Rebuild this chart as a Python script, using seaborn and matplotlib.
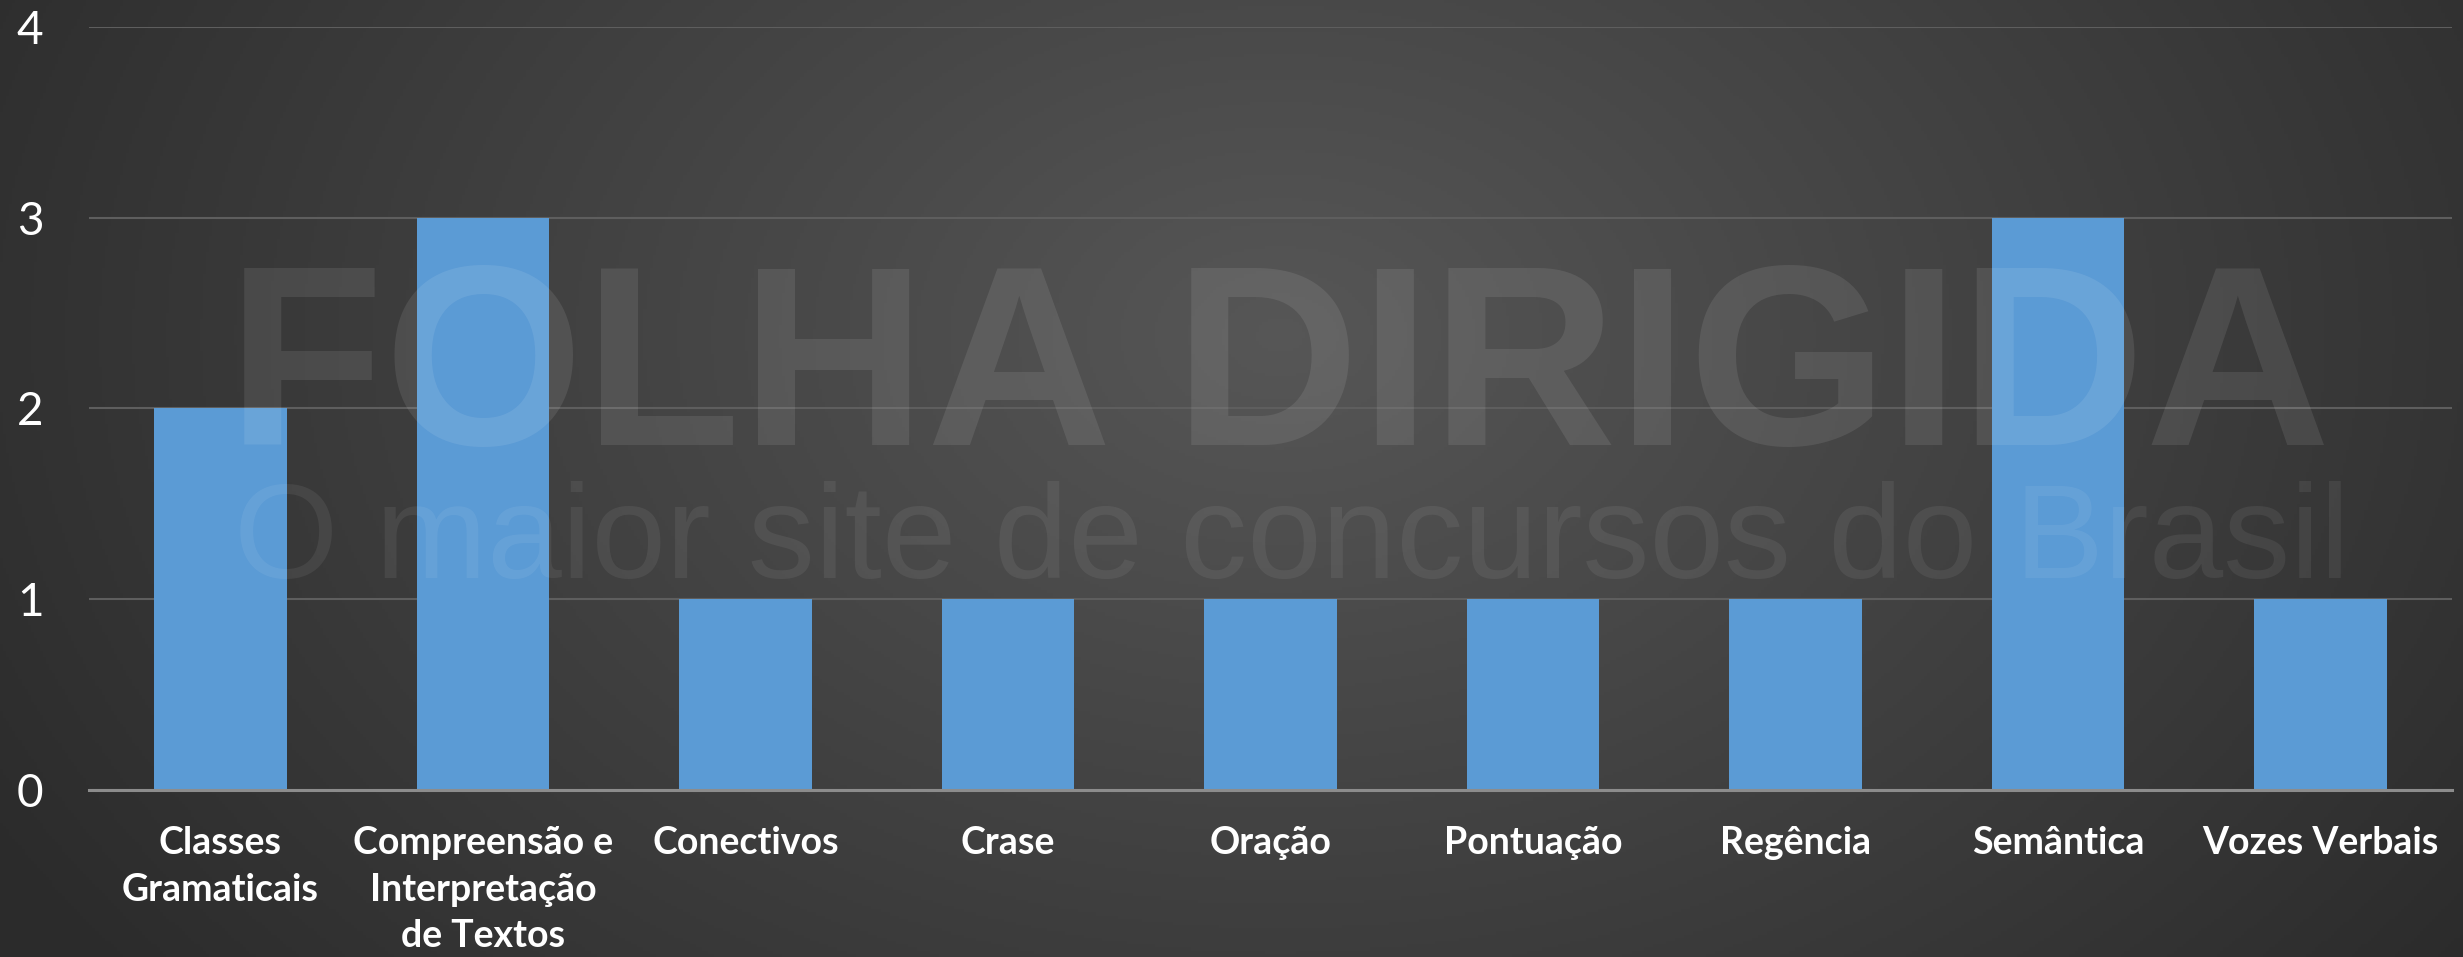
import numpy as np
import pandas as pd
import seaborn as sns
import matplotlib
matplotlib.use("Agg")
import matplotlib.pyplot as plt

categories = ["Classes\nGramaticais", "Compreensão e\nInterpretação\nde Textos",
              "Conectivos", "Crase", "Oração", "Pontuação", "Regência",
              "Semântica", "Vozes Verbais"]
values = [2, 3, 1, 1, 1, 1, 1, 3, 1]
yticks = [0, 1, 2, 3, 4]

df = pd.DataFrame({"cat": categories, "val": values})

sns.set_theme(style="dark")
plt.rcParams['font.family'] = ['Lato', 'DejaVu Sans']

W, H = 2463, 957
fig = plt.figure(figsize=(W / 100, H / 100), dpi=100)

# background radial gradient
bg = fig.add_axes([0, 0, 1, 1], zorder=-10)
yy, xx = np.mgrid[0:1:300j, 0:1:800j]
d = np.sqrt(((xx - 0.52) * 1.0) ** 2 + ((yy - 0.35) * 0.55) ** 2)
v = np.clip(1 - d / 0.6, 0, 1)
lum = 0.17 + 0.17 * v
img = np.dstack([lum, lum, lum])
bg.imshow(img, extent=[0, 1, 0, 1], aspect='auto', origin='upper')
bg.set_axis_off()

ax = fig.add_axes([89 / W, 1 - 790 / H, (2452 - 89) / W, (790 - 26.7) / H])
ax.set_facecolor('none')
sns.barplot(data=df, x="cat", y="val", color="#5B9BD5", saturation=1,
            width=0.505, ax=ax, zorder=3, edgecolor='none', linewidth=0)
ax.set_ylim(0, 4)
ax.set_yticks(yticks)
ax.set_xlim(-0.5, len(categories) - 0.5)
ax.set_xlabel("")
ax.set_ylabel("")
ax.grid(axis='y', color='#5e5e5e', linewidth=1.5, zorder=0)
ax.grid(axis='x', visible=False)
for s in ['left', 'right', 'top']:
    ax.spines[s].set_visible(False)
ax.spines['bottom'].set_color('#8c8c8c')
ax.spines['bottom'].set_linewidth(2.2)
ax.spines['bottom'].set_zorder(4)
ax.tick_params(axis='y', length=0, pad=52, labelsize=33, labelcolor='white')
ax.tick_params(axis='x', length=0, pad=26, labelsize=27, labelcolor='white')
for lab in ax.get_yticklabels():
    lab.set_horizontalalignment('left')
for lab in ax.get_xticklabels():
    lab.set_fontweight('bold')
    lab.set_linespacing(1.45)

# watermark
fig.text(1279 / W, 1 - 445 / H, "FOLHA DIRIGIDA", ha='center', va='baseline',
         family=['Liberation Sans', 'DejaVu Sans'], fontweight='bold',
         fontsize=185, color='white', alpha=0.09, zorder=20)
fig.text(1292 / W, 1 - 578 / H, "O maior site de concursos do Brasil", ha='center',
         va='baseline', family=['Liberation Sans', 'DejaVu Sans'],
         fontsize=96.5, color='white', alpha=0.065, zorder=20)

fig.savefig("out.png", dpi=100)
